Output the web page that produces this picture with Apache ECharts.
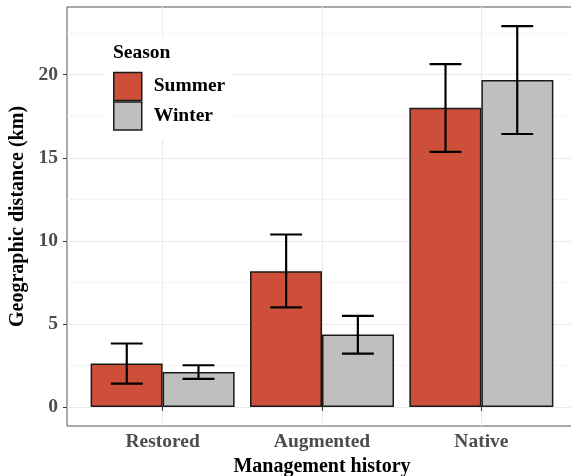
<!DOCTYPE html>
<html>
<head>
<meta charset="utf-8">
<script src="https://cdn.jsdelivr.net/npm/echarts@6/dist/echarts.min.js"></script>
<style>html,body{margin:0;padding:0;background:#fff}#c{width:571px;height:476px}</style>
</head>
<body>
<div id="c"></div>
<script>
const categories = ['Restored', 'Augmented', 'Native'];
const seasons = ['Summer', 'Winter'];
const summerMean = [2.61, 8.17, 18.01];
const summerLo = [1.41, 5.99, 15.36];
const summerHi = [3.82, 10.38, 20.64];
const winterMean = [2.11, 4.36, 19.68];
const winterLo = [1.69, 3.21, 16.43];
const winterHi = [2.51, 5.48, 22.93];
const yTicks = [0, 5, 10, 15, 20];
const yMinorTicks = [2.5, 7.5, 12.5, 17.5, 22.5];

const FONT = 'Liberation Serif';
const maxHi = Math.max(...summerHi, ...winterHi);
const yMin = -0.05 * maxHi, yMax = 1.05 * maxHi;
const xPos = categories.map((c, i) => i + 1);
const DODGE = 0.225, CAP = 0.1;

function errSeries(name, lo, hi, off) {
  return {
    type: 'custom', name: name, z: 5,
    data: xPos.map((x, i) => [x, lo[i], hi[i]]),
    encode: {x: 0, y: [1, 2]},
    renderItem: function (params, api) {
      const c = api.value(0) + off, l = api.value(1), h = api.value(2);
      const top = api.coord([c, h]), bot = api.coord([c, l]);
      const tl = api.coord([c - CAP, h]), tr = api.coord([c + CAP, h]);
      const bl = api.coord([c - CAP, l]), br = api.coord([c + CAP, l]);
      const st = {stroke: '#000', lineWidth: 2.2, fill: null};
      return {type: 'group', children: [
        {type: 'line', shape: {x1: top[0], y1: top[1], x2: bot[0], y2: bot[1]}, style: st},
        {type: 'line', shape: {x1: tl[0], y1: tl[1], x2: tr[0], y2: tr[1]}, style: st},
        {type: 'line', shape: {x1: bl[0], y1: bl[1], x2: br[0], y2: br[1]}, style: st}
      ]};
    }
  };
}

const chart = echarts.init(document.getElementById('c'), null, {renderer: 'canvas'});
chart.setOption({
  backgroundColor: '#fff',
  animation: false,
  title: {
    text: 'Season', left: 113, top: 43, padding: 0, z: 10,
    textStyle: {fontFamily: FONT, fontWeight: 'bold', fontSize: 19.5, color: '#000'}
  },
  legend: {
    data: seasons, orient: 'vertical', left: 105, top: 37,
    padding: [34.7, 6, 9, 8], itemGap: 0, itemWidth: 28, itemHeight: 28,
    icon: 'rect', selectedMode: false, backgroundColor: '#fff', z: 8,
    itemStyle: {borderColor: '#1a1a1a', borderWidth: 1.5},
    textStyle: {fontFamily: FONT, fontWeight: 'bold', fontSize: 19.5, color: '#000', padding: [0, 0, 0, 7]}
  },
  grid: {left: 67, top: 7, width: 510, height: 419, show: true, borderColor: '#555', borderWidth: 1,
    backgroundColor: '#fff', containLabel: false, outerBoundsMode: 'none'},
  xAxis: {
    type: 'value', min: 0.4, max: 3.6,
    name: 'Management history', nameLocation: 'middle', nameGap: 29,
    nameTextStyle: {fontFamily: FONT, fontWeight: 'bold', fontSize: 20, color: '#000'},
    axisLine: {show: false},
    axisTick: {show: true, length: 4, customValues: xPos, lineStyle: {color: '#333', width: 1}},
    axisLabel: {customValues: xPos, margin: 6, formatter: v => categories[Math.round(v) - 1] || '',
      fontFamily: FONT, fontWeight: 'bold', fontSize: 19.5, color: '#4D4D4D'},
    splitLine: {show: true, lineStyle: {color: '#EBEBEB', width: 1.2}}
  },
  yAxis: [{
    type: 'value', min: yMin, max: yMax,
    name: 'Geographic distance (km)', nameLocation: 'middle', nameGap: 38,
    nameTextStyle: {fontFamily: FONT, fontWeight: 'bold', fontSize: 20, color: '#000'},
    axisLine: {show: false},
    axisTick: {show: true, length: 4, customValues: yTicks, lineStyle: {color: '#333', width: 1}},
    axisLabel: {customValues: yTicks, margin: 9, fontFamily: FONT, fontWeight: 'bold', fontSize: 19.5, color: '#4D4D4D'},
    splitLine: {show: true, lineStyle: {color: '#EBEBEB', width: 1.2}}
  }, {
    type: 'value', min: yMin, max: yMax, position: 'left',
    axisLine: {show: false},
    axisTick: {show: false, customValues: yMinorTicks},
    axisLabel: {show: false, customValues: yMinorTicks},
    splitLine: {show: true, lineStyle: {color: '#F2F2F2', width: 0.8}}
  }],
  series: [
    {
      type: 'bar', name: 'Summer', barWidth: 72, barGap: '0%', z: 3,
      data: xPos.map((x, i) => [x, summerMean[i]]),
      itemStyle: {color: '#CD4F39', borderColor: '#1a1a1a', borderWidth: 1.5}
    },
    {
      type: 'bar', name: 'Winter', barWidth: 72, barGap: '0%', z: 3,
      data: xPos.map((x, i) => [x, winterMean[i]]),
      itemStyle: {color: '#BFBFBF', borderColor: '#1a1a1a', borderWidth: 1.5}
    },
    errSeries('Summer SE', summerLo, summerHi, -DODGE),
    errSeries('Winter SE', winterLo, winterHi, DODGE)
  ]
});
</script>
</body>
</html>
